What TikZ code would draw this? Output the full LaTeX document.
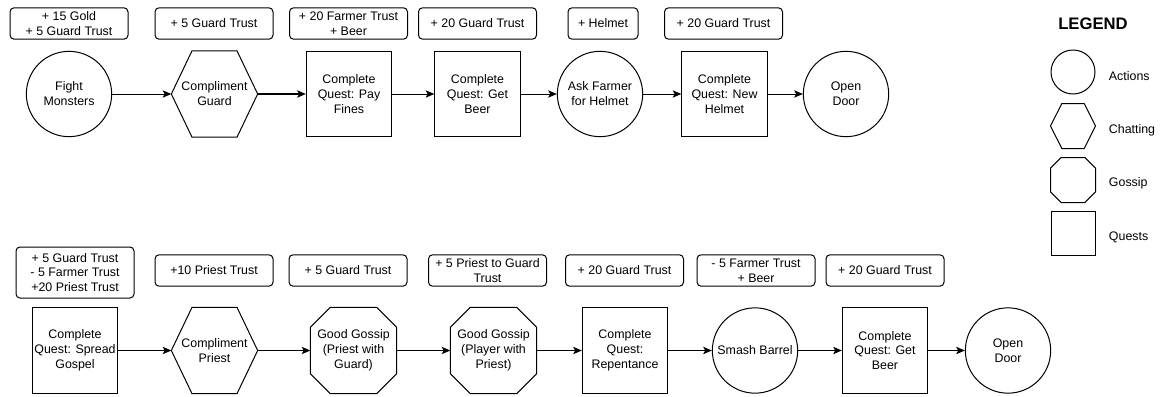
\documentclass[tikz,border=0pt]{standalone}
\usepackage{fontspec}
\setmainfont{Liberation Sans}
\usetikzlibrary{arrows.meta}

\tikzset{
  action/.style={draw, circle, minimum size=64pt, inner sep=0pt, align=center},
  quest/.style={draw, rectangle, minimum size=64pt, inner sep=0pt, align=center},
  chat/.style={rectangle, minimum size=64pt, inner sep=0pt, align=center},
  reward/.style={draw, rounded corners=3pt, minimum width=88.5pt, minimum height=23.5pt, inner sep=1pt, align=center},
  flow/.style={-{Stealth[length=6.5pt,width=5.5pt,inset=1.5pt]}},
}

% outline of a chatting node (hexagon) and a gossip node (octagon)
\newcommand{\chatline}[2]{\draw (#1.west) -- ([xshift=#2]#1.north west) -- ([xshift=-#2]#1.north east) -- (#1.east) -- ([xshift=-#2]#1.south east) -- ([xshift=#2]#1.south west) -- cycle;}
\newcommand{\gossipline}[2]{\draw ([yshift=-#2]#1.north west) -- ([xshift=#2]#1.north west) -- ([xshift=-#2]#1.north east) -- ([yshift=-#2]#1.north east) -- ([yshift=#2]#1.south east) -- ([xshift=-#2]#1.south east) -- ([xshift=#2]#1.south west) -- ([yshift=#2]#1.south west) -- cycle;}

\begin{document}
\begin{tikzpicture}[x=0.75pt, y=-0.75pt, line width=0.75pt, font=\fontsize{9.3}{11.2}\selectfont]
\useasboundingbox (0,0) rectangle (1162,396);

% first route
\node[reward] (R1) at (69,23.5) {+ 15 Gold\\+ 5 Guard Trust};
\node[reward] (R2) at (214,23.5) {+ 5 Guard Trust};
\node[reward] (R3) at (348.5,23.5) {+ 20 Farmer Trust\\+ Beer};
\node[reward] (R4) at (477.5,23.5) {+ 20 Guard Trust};
\node[reward, minimum width=52.5pt] (R5) at (603,23.5) {+ Helmet};
\node[reward] (R6) at (723.5,23.5) {+ 20 Guard Trust};

\node[action] (A1) at (69,94) {Fight\\Monsters};
\node[chat] (A2) at (214.5,94) {Compliment\\Guard};
\node[quest] (A3) at (349,94) {Complete\\Quest: Pay\\Fines};
\node[quest] (A4) at (477.5,94) {Complete\\Quest: Get\\Beer};
\node[action] (A5) at (600,94) {Ask Farmer\\for Helmet};
\node[quest] (A6) at (724.5,94) {Complete\\Quest: New\\Helmet};
\node[action] (A7) at (846,94) {Open\\Door};
\chatline{A2}{15.5pt}

\draw[flow] (A1) -- (A2);
\draw[flow, line width=1.3pt] (A2) -- (A3);
\draw[flow] (A3) -- (A4);
\draw[flow] (A4) -- (A5);
\draw[flow] (A5) -- (A6);
\draw[flow] (A6) -- (A7);

% second route
\node[reward, minimum height=38.25pt] (S1) at (75,272.5) {+ 5 Guard Trust\\- 5 Farmer Trust\\+20 Priest Trust};
\node[reward] (S2) at (214,270.5) {+10 Priest Trust};
\node[reward] (S3) at (348,270.5) {+ 5 Guard Trust};
\node[reward] (S4) at (487.5,270.5) {+ 5 Priest to Guard\\Trust};
\node[reward] (S5) at (624.5,270.5) {+ 20 Guard Trust};
\node[reward] (S6) at (756,270.5) {- 5 Farmer Trust\\+ Beer};
\node[reward] (S7) at (885,270.5) {+ 20 Guard Trust};

\node[quest] (B1) at (75,350.5) {Complete\\Quest: Spread\\Gospel};
\node[chat] (B2) at (214.5,350.5) {Compliment\\Priest};
\node[chat] (B3) at (353.5,350.5) {Good Gossip\\(Priest with\\Guard)};
\node[chat] (B4) at (493.5,350.5) {Good Gossip\\(Player with\\Priest)};
\node[quest] (B5) at (625,350.5) {Complete\\Quest:\\Repentance};
\node[action] (B6) at (755,350.5) {Smash Barrel};
\node[quest] (B7) at (885,350.5) {Complete\\Quest: Get\\Beer};
\node[action] (B8) at (1008,350.5) {Open\\Door};
\chatline{B2}{15.5pt}
\gossipline{B3}{15pt}
\gossipline{B4}{15pt}

\draw[flow] (B1) -- (B2);
\draw[flow] (B2) -- (B3);
\draw[flow] (B3) -- (B4);
\draw[flow] (B4) -- (B5);
\draw[flow] (B5) -- (B6);
\draw[flow] (B6) -- (B7);
\draw[flow] (B7) -- (B8);

% legend
\node[font=\fontsize{12.5}{14}\selectfont\bfseries] (L0) at (1093,24) {LEGEND};
\node[action, minimum size=33pt] (L1) at (1073,72) {};
\node[chat, minimum size=33pt] (L2) at (1073,126) {};
\node[chat, minimum size=33pt] (L3) at (1073,180) {};
\node[quest, minimum size=33pt] (L4) at (1073,233) {};
\chatline{L2}{8.5pt}
\gossipline{L3}{8pt}
\node[anchor=west] (T1) at (1104,76) {Actions};
\node[anchor=west] (T2) at (1104,130) {Chatting};
\node[anchor=west] (T3) at (1104,183) {Gossip};
\node[anchor=west] (T4) at (1104,237) {Quests};
\end{tikzpicture}
\end{document}
